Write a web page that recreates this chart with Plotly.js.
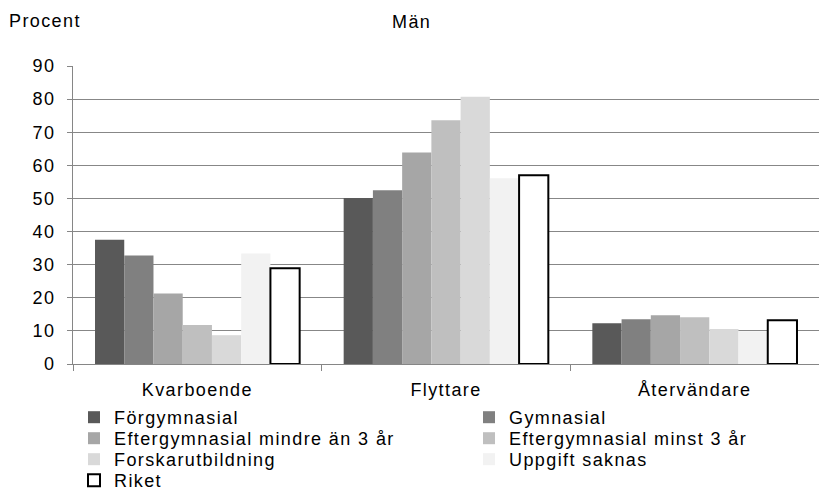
<!DOCTYPE html>
<html>
<head>
<meta charset="utf-8">
<script src="https://cdn.plot.ly/plotly-3.0.1.min.js"></script>
<style>
html, body { margin: 0; padding: 0; background: #ffffff; }
#chart { width: 819px; height: 499px; }
text { letter-spacing: 1.4px; }
</style>
</head>
<body>
<div id="chart"></div>
<script>
const categories = ['Kvarboende', 'Flyttare', 'Återvändare'];
const seriesNames = ['Förgymnasial', 'Gymnasial', 'Eftergymnasial mindre än 3 år', 'Eftergymnasial minst 3 år', 'Forskarutbildning', 'Uppgift saknas', 'Riket'];
const forgymnasial = [37.5, 50.1, 12.3];
const gymnasial = [32.8, 52.5, 13.5];
const eftergymnasialMindre = [21.3, 63.9, 14.7];
const eftergymnasialMinst = [11.8, 73.6, 14.1];
const forskarutbildning = [8.7, 80.7, 10.6];
const uppgiftSaknas = [33.4, 56.1, 9.9];
const riket = [28.9, 57.0, 13.2];
const yTicks = [0, 10, 20, 30, 40, 50, 60, 70, 80, 90];

const seriesValues = [forgymnasial, gymnasial, eftergymnasialMindre, eftergymnasialMinst, forskarutbildning, uppgiftSaknas, riket];
const fills = ['#595959', '#808080', '#a6a6a6', '#bfbfbf', '#d9d9d9', '#f2f2f2', '#ffffff'];

const FONT = 'Liberation Sans, Arial, sans-serif';
const W = 819, H = 499;

// legend slots: two columns, row-major order
const colX = [74, 469];
const rowTop = [399, 420, 441, 462];

const traces = seriesValues.map((vals, i) => ({
  type: 'bar',
  name: seriesNames[i],
  x: categories,
  y: vals,
  legend: i === 0 ? 'legend' : 'legend' + (i + 1),
  marker: {
    color: fills[i],
    line: i === 6 ? {color: '#000000', width: 2} : {width: 0}
  },
  hoverinfo: 'none'
}));

const layout = {
  width: W,
  height: H,
  margin: {l: 73, r: 0, t: 66, b: 135, autoexpand: false},
  paper_bgcolor: '#ffffff',
  plot_bgcolor: '#ffffff',
  font: {family: FONT, size: 18, color: '#000000'},
  barmode: 'group',
  bargap: 0.177,
  bargroupgap: 0,
  showlegend: true,
  xaxis: {
    type: 'category',
    showline: true,
    linecolor: '#868686',
    linewidth: 1,
    ticks: 'outside',
    tickson: 'boundaries',
    ticklen: 6,
    tickcolor: '#868686',
    showgrid: false,
    tickangle: 0,
    automargin: false,
    tickfont: {family: FONT, size: 18, color: '#000000'},
    ticklabelstandoff: 9
  },
  yaxis: {
    range: [0, 90],
    tickvals: yTicks,
    ticktext: yTicks.map(String),
    showline: true,
    linecolor: '#868686',
    linewidth: 1,
    ticks: 'outside',
    ticklen: 5,
    tickcolor: '#868686',
    showgrid: true,
    gridcolor: '#878787',
    gridwidth: 1.2,
    zeroline: false,
    automargin: false,
    tickfont: {family: FONT, size: 18, color: '#000000'},
    ticklabelstandoff: 8
  },
  annotations: [
    {text: 'Procent', xref: 'paper', yref: 'paper', x: (7 - 73) / 746, y: 1 + 45 / 298, xanchor: 'left', yanchor: 'middle', showarrow: false, font: {family: FONT, size: 18, color: '#000000'}},
    {text: 'Män', xref: 'paper', yref: 'paper', x: (411 - 73) / 746, y: 1 + 44 / 298, xanchor: 'center', yanchor: 'middle', showarrow: false, font: {family: FONT, size: 18, color: '#000000'}}
  ]
};

seriesNames.forEach((nm, i) => {
  const key = i === 0 ? 'legend' : 'legend' + (i + 1);
  layout[key] = {
    xref: 'container',
    yref: 'container',
    x: colX[i % 2] / W,
    xanchor: 'left',
    y: 1 - rowTop[Math.floor(i / 2)] / H,
    yanchor: 'top',
    font: {family: FONT, size: 18, color: '#000000'},
    bgcolor: 'rgba(0,0,0,0)',
    borderwidth: 0
  };
});

Plotly.newPlot('chart', traces, layout, {displayModeBar: false, staticPlot: true});
</script>
</body>
</html>
